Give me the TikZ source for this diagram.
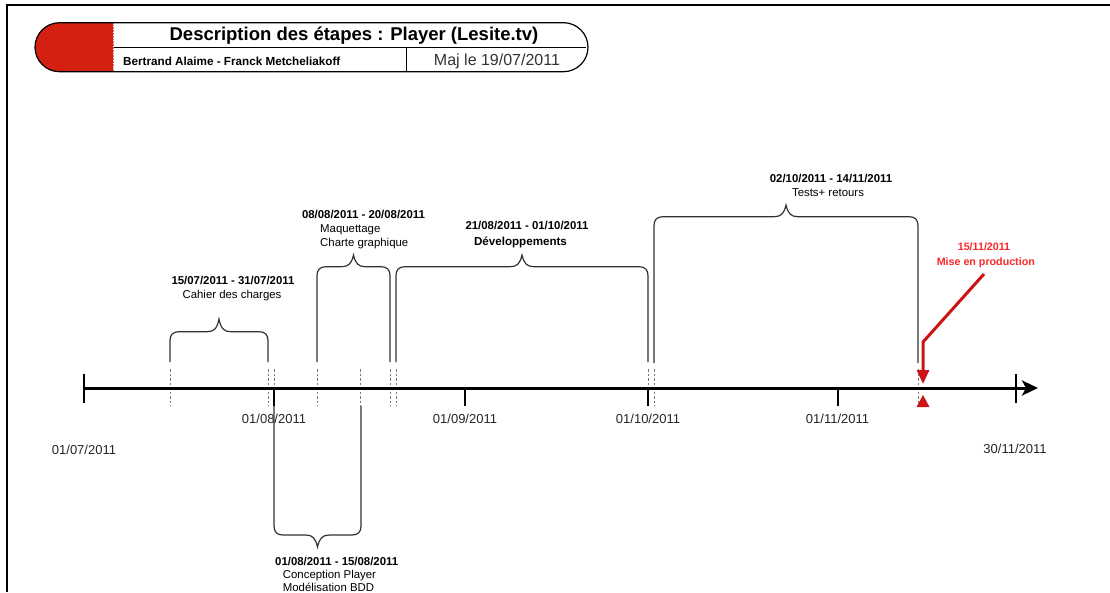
\documentclass[tikz,border=0pt]{standalone}
\usepackage{fontspec}
\setmainfont{Liberation Sans}
\usetikzlibrary{arrows.meta}
\definecolor{hred}{RGB}{212,32,16}
\definecolor{ared}{RGB}{205,20,20}
\definecolor{tred}{RGB}{250,40,40}
\definecolor{brcol}{RGB}{50,50,50}
\tikzset{
  brc/.style={draw=brcol, line width=1.2pt},
  dashl/.style={draw=gray!95!black, line width=0.9pt, dash pattern=on 2.5pt off 2pt},
  tickl/.style={draw=black, line width=1.3pt},
  lbl/.style={inner sep=0pt, anchor=base},
  lbll/.style={inner sep=0pt, anchor=base west},
  datef/.style={font=\bfseries\fontsize{11.4}{13}\selectfont},
  descf/.style={font=\fontsize{11.4}{13}\selectfont},
  axf/.style={font=\fontsize{13}{15}\selectfont, text=black!85},
}
% brace: x1, x2, ybottom(legs end), ytop(horizontal), ytip, direction (1 up, -1 down)
\newcommand\tlbrace[6]{%
  \pgfmathsetmacro\xc{(#1+#2)/2}%
  \draw[brc] (#1,#3) -- (#1,#4+9*#6)
    .. controls (#1,#4+3*#6) and (#1+3,#4) .. (#1+9,#4)
    -- (\xc-12,#4)
    .. controls (\xc-5,#4) and (\xc-2,#4-3*#6) .. (\xc,#5)
    .. controls (\xc+2,#4-3*#6) and (\xc+5,#4) .. (\xc+12,#4)
    -- (#2-9,#4)
    .. controls (#2-3,#4) and (#2,#4+3*#6) .. (#2,#4+9*#6)
    -- (#2,#3);}
\begin{document}
\begin{tikzpicture}[x=1pt,y=-1pt]
\useasboundingbox (0,0) rectangle (1110,592);
\fill[white] (0,0) rectangle (1110,592);
% frame
\draw[line width=2pt] (7,592) -- (7,5) -- (1110,5);

% header
\begin{scope}
  \clip (30,10) rectangle (113.5,80);
  \fill[hred, rounded corners=24.5pt] (35,22.7) rectangle (200,71.7);
\end{scope}
\draw[white, line width=0.8pt, dotted] (113.5,23.5) -- (113.5,71);
\draw[line width=1.2pt, rounded corners=24.5pt] (35,22.7) rectangle (588,71.7);
\draw[line width=0.9pt] (113.5,47.2) -- (586,47.2);
\draw[line width=0.9pt] (406,47.2) -- (406,71.7);
\node[lbl, font=\bfseries\fontsize{18.5}{20}\selectfont] (title) at (354,40) {Description des étapes : Player (Lesite.tv)};
\node[lbll, font=\bfseries\fontsize{11.7}{13}\selectfont] (auth) at (123,65) {Bertrand Alaime - Franck Metcheliakoff};
\node[lbl, font=\fontsize{16}{18}\selectfont, text=black!80] (maj) at (497,65) {Maj le 19/07/2011};

% dashed markers
\foreach \x in {170,268,274,317,360,390,396,648,654,918}
  \draw[dashl] (\x,369) -- (\x,406);

% axis
\draw[line width=3pt, -{Stealth[length=16pt,width=15pt,inset=4pt]}] (84,388) -- (1038,388);
\draw[tickl] (84,374) -- (84,403);
\draw[tickl] (1016,374) -- (1016,403);
\foreach \x in {274,465,648,838}
  \draw[tickl] (\x,388) -- (\x,406);

% axis labels
\node[lbl, axf] (d0708) at (274,423.3) {01/08/2011};
\node[lbl, axf] (d0109) at (465,423.3) {01/09/2011};
\node[lbl, axf] (d0110) at (648,423.3) {01/10/2011};
\node[lbl, axf] (d0111) at (837.5,423.3) {01/11/2011};
\node[lbl, axf] (d0107) at (84,454) {01/07/2011};
\node[lbl, axf] (d3011) at (1015,453.5) {30/11/2011};

% braces
\tlbrace{170}{268}{362}{331.7}{319}{1}
\tlbrace{317}{390}{362}{266.7}{255}{1}
\tlbrace{396}{648}{362}{266.7}{255}{1}
\tlbrace{654}{918}{363}{216.7}{205}{1}
\tlbrace{274}{361}{406}{535}{547}{-1}

% brace labels
\node[lbl, datef] (cdate) at (233,284) {15/07/2011 - 31/07/2011};
\node[lbl, descf] (cdesc) at (232,298) {Cahier des charges};
\node[lbl, datef] (mdate) at (363.5,218.3) {08/08/2011 - 20/08/2011};
\node[lbll, descf] (mdesc1) at (320,232.7) {Maquettage};
\node[lbll, descf] (mdesc2) at (320,246) {Charte graphique};
\node[lbl, datef] (ddate) at (527,229) {21/08/2011 - 01/10/2011};
\node[lbl, font=\bfseries\fontsize{11.6}{13}\selectfont] (ddesc) at (520.5,245) {Développements};
\node[lbl, datef] (tdate) at (831,182) {02/10/2011 - 14/11/2011};
\node[lbl, descf] (tdesc) at (828,196.7) {Tests+ retours};
\node[lbl, datef] (pdate) at (336.7,565) {01/08/2011 - 15/08/2011};
\node[lbll, descf] (pdesc1) at (282.7,578.3) {Conception Player};
\node[lbll, descf] (pdesc2) at (282.7,591.5) {Modélisation BDD};

% production milestone
\node[lbl, text=tred, font=\bfseries\fontsize{10.7}{12}\selectfont] (mdate2) at (984,250.7) {15/11/2011};
\node[lbl, text=tred, font=\bfseries\fontsize{10.7}{12}\selectfont] (mise) at (985.8,265) {Mise en production};
\coordinate (astart) at (984,274);
\coordinate (abend) at (923,342);
\coordinate (atip) at (923,384);
\draw[ared, line width=3pt, -{Triangle[length=14pt,width=12pt]}] (astart) -- (abend) -- (atip);
\fill[ared] (923,395) -- (929.5,407) -- (916.5,407) -- cycle;
\end{tikzpicture}
\end{document}
